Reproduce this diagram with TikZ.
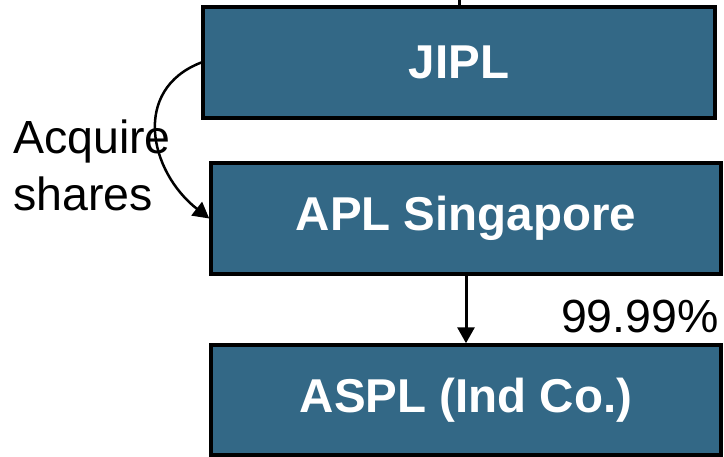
\documentclass[tikz,border=0pt]{standalone}
\usepackage{fontspec}
\setmainfont{Liberation Sans}
\usetikzlibrary{arrows.meta}
\definecolor{boxblue}{RGB}{51,104,134}
\begin{document}
\begin{tikzpicture}[x=1pt,y=-1pt,
  entity/.style={draw=black, line width=3.5pt, fill=boxblue, text=white,
    font=\fontsize{47.5}{56}\selectfont\bfseries, inner sep=0pt, minimum height=111pt},
  lbl/.style={font=\fontsize{46.5}{57}\selectfont, text=black, inner sep=0pt},
  link/.style={line width=3pt, -{Triangle[width=17pt,length=16pt]}}]
\useasboundingbox (0,0) rectangle (724,456);
\node[entity, minimum width=512pt] (jipl) at (459,62.5) {JIPL};
\node[entity, minimum width=510pt] (apl) at (466,218.5) {APL Singapore};
\node[entity, minimum width=510pt, minimum height=110pt] (aspl) at (466,400) {ASPL (Ind Co.)};
\node[lbl, align=left, anchor=north west] (acq) at (13,120) {Acquire\\shares};
\node[lbl, anchor=base east] (pct) at (719,332) {99.99\%};
\coordinate (topin) at (459,0);
\draw[line width=3pt] (topin) -- (jipl.north);
\draw[link, line width=2.5pt] (jipl.west) .. controls +(-70,27) and +(-60,-47) .. (apl.west);
\draw[link] (apl.south) -- (aspl.north);
\end{tikzpicture}
\end{document}
